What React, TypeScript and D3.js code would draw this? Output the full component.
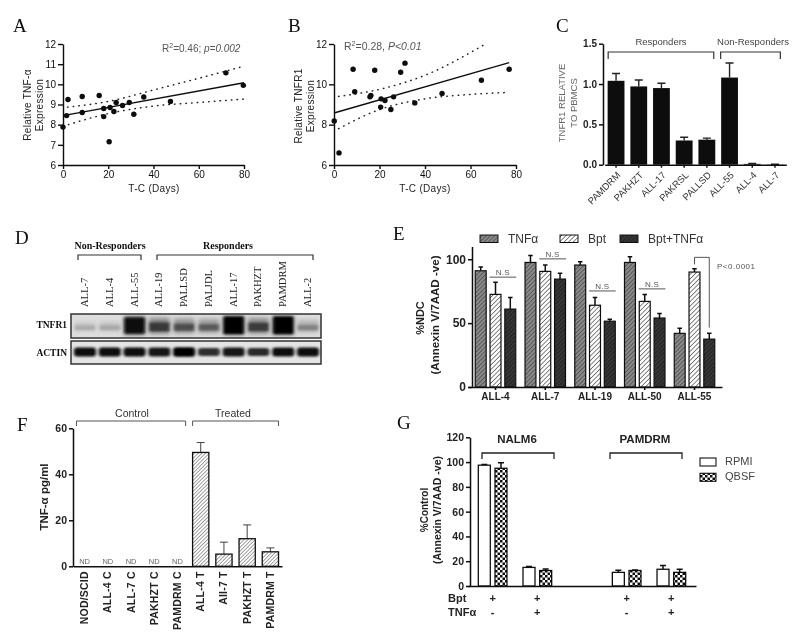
import React, { useEffect, useRef } from 'react';
import * as d3 from 'd3';

const SANS = '"Liberation Sans", Arial, sans-serif';
const SERIF = '"Liberation Serif", "Times New Roman", serif';

// Panel A
const aPoints: [number, number][] = [[0, 7.88], [1.6, 8.45], [2.2, 9.25], [8.5, 9.4], [8.5, 8.6], [16, 9.45], [18, 8.8], [18, 8.4], [20.4, 7.15], [20.8, 8.85], [22.5, 8.65], [23.5, 9.1], [26.3, 8.95], [29.3, 9.1], [31.3, 8.52], [35.7, 9.37], [47.5, 9.15], [72, 10.57], [79.7, 9.95]];
const aFit: [number, number][] = [[0, 8.45], [80, 10.08]];
const aUpper: [number, number][] = [[2, 8.87], [20, 9.15], [40, 9.72], [60, 10.3], [80, 10.9]];
const aLower: [number, number][] = [[0, 7.92], [20, 8.55], [40, 8.92], [60, 9.1], [80, 9.27]];

// Panel B
const bPoints: [number, number][] = [[0.1, 8.18], [2.2, 6.6], [8.4, 10.75], [9.1, 9.63], [15.8, 9.38], [16.2, 9.45], [17.9, 10.7], [20.7, 9.28], [20.5, 8.87], [22.4, 9.2], [25, 8.75], [26.2, 9.38], [29.3, 10.6], [31.2, 11.05], [35.5, 9.08], [47.5, 9.55], [64.8, 10.2], [77, 10.75]];
const bFit: [number, number][] = [[0, 8.58], [77, 11.08]];
const bUpper: [number, number][] = [[2, 9.4], [20, 9.75], [40, 10.45], [65.5, 11.93]];
const bLower: [number, number][] = [[2, 7.8], [20, 8.75], [40, 9.28], [60, 9.5], [77, 9.6]];

// Panel C
const cCats = ['PAMDRM', 'PAKHZT', 'ALL-17', 'PAKRSL', 'PALLSD', 'ALL-55', 'ALL-4', 'ALL-7'];
const cValues = [1.04, 0.97, 0.95, 0.3, 0.31, 1.08, 0.01, 0.003];
const cErrTop = [1.13, 1.05, 1.01, 0.34, 0.33, 1.26, 0.015, 0.005];

// Panel D
const dLanes = ['ALL-7', 'ALL-4', 'ALL-55', 'ALL-19', 'PALLSD', 'PALJDL', 'ALL-17', 'PAKHZT', 'PAMDRM', 'ALL-2'];
const dTnfr1 = [0.22, 0.24, 0.97, 0.76, 0.66, 0.6, 1, 0.74, 1, 0.42];
const dActin = [0.97, 0.97, 0.97, 0.92, 1, 0.8, 0.93, 0.82, 0.95, 0.97];

// Panel E
const eGroups = ['ALL-4', 'ALL-7', 'ALL-19', 'ALL-50', 'ALL-55'];
const eSeries = ['TNFα', 'Bpt', 'Bpt+TNFα'];
const eTnf = [91, 97.5, 95.5, 97.5, 42];
const eBpt = [72.5, 90.5, 64, 67, 90];
const eBoth = [61, 84.5, 51.5, 54, 37.5];
const eTnfErr = [94, 103, 98, 102, 46];
const eBptErr = [82, 95.5, 70, 72.5, 92.5];
const eBothErr = [70, 89, 53, 57.5, 42];
const eNs = [86, 100.3, 75.2, 76.8];

// Panel F
const fCats = ['NOD/SCID', 'ALL-4 C', 'ALL-7 C', 'PAKHZT C', 'PAMDRM C', 'ALL-4 T', 'AII-7 T', 'PAKHZT T', 'PAMDRM T'];
const fValues = [0, 0, 0, 0, 0, 49.5, 5.3, 12, 6.3];
const fErrTop = [0, 0, 0, 0, 0, 53.8, 10.5, 18, 8];

// Panel G
const gSlots = ['NALM6 a', 'NALM6 b', '', 'PAMDRM a', 'PAMDRM b'];
const gSeries = ['RPMI', 'QBSF'];
const gRpmi = [97.5, 15, 0, 11, 13.5];
const gQbsf = [95, 12.5, 0, 12.5, 11];
const gRpmiErr = [98, 15.7, 0, 12.7, 16.5];
const gQbsfErr = [99.5, 13.7, 0, 13, 13.5];
const gBpt = ['+', '+', '', '+', '+'];
const gTnf = ['-', '+', '', '-', '+'];

type Sel = d3.Selection<any, any, any, any>;

function styleAxis(a: Sel, size: number, weight: string | number, color = '#111', sw = 1.4) {
    a.selectAll('path,line').attr('stroke', '#111').attr('stroke-width', sw);
    a.selectAll('text').style('font-family', SANS).style('font-size', `${size}px`).style('font-weight', weight).attr('fill', color);
}

function label(g: Sel, x: number, y: number, t: string, size: number, opts: any = {}) {
    const el = g.append('text').attr('x', x).attr('y', y)
        .attr('text-anchor', opts.anchor || 'start')
        .style('font-family', opts.family || SANS)
        .style('font-size', `${size}px`)
        .style('font-weight', opts.weight || 'normal')
        .attr('fill', opts.fill || '#222')
        .text(t);
    if (opts.spacing) el.style('letter-spacing', `${opts.spacing}px`);
    return el;
}

function bracket(g: Sel, x1: number, x2: number, y: number, drop: number, color = '#333', sw = 1.2) {
    g.append('path').attr('d', `M${x1},${y + drop}V${y}H${x2}V${y + drop}`)
        .attr('fill', 'none').attr('stroke', color).attr('stroke-width', sw);
}

function hatch(defs: Sel, id: string, bg: string, fg: string, gap: number, sw: number) {
    const p = defs.append('pattern').attr('id', id).attr('patternUnits', 'userSpaceOnUse')
        .attr('width', gap).attr('height', gap).attr('patternTransform', 'rotate(45)');
    p.append('rect').attr('width', gap).attr('height', gap).attr('fill', bg);
    p.append('line').attr('x1', 0).attr('x2', 0).attr('y1', 0).attr('y2', gap).attr('stroke', fg).attr('stroke-width', sw);
}

function scatter(root: Sel, o: any) {
    const x = d3.scaleLinear().domain([0, 80]).range(o.xr);
    const y = d3.scaleLinear().domain([6, 12]).range([165, 44]);
    const ax = root.append('g').attr('transform', 'translate(0,165)').call(d3.axisBottom(x).tickValues([0, 20, 40, 60, 80]).tickSize(4).tickSizeOuter(0).tickPadding(2) as any);
    styleAxis(ax, 10, 'normal', '#111');
    const ay = root.append('g').attr('transform', `translate(${o.xr[0]},0)`).call(d3.axisLeft(y).tickValues(o.yTicks).tickSize(5).tickSizeOuter(0).tickFormat(d3.format('d') as any).tickPadding(2) as any);
    styleAxis(ay, 10, 'normal', '#111');

    const line = d3.line<[number, number]>().x(d => x(d[0])).y(d => y(d[1]));
    root.append('path').attr('d', line(o.fit)).attr('fill', 'none').attr('stroke', '#111').attr('stroke-width', 1.4);
    const curve = d3.line<[number, number]>().x(d => x(d[0])).y(d => y(d[1])).curve(d3.curveMonotoneX);
    [o.upper, o.lower].forEach(b => {
        root.append('path').attr('d', curve(b)).attr('fill', 'none').attr('stroke', '#222')
            .attr('stroke-width', 1.5).attr('stroke-linecap', 'round').attr('stroke-dasharray', '0.5 5.2');
    });
    root.selectAll(null).data(o.points).enter().append('circle')
        .attr('cx', (d: any) => x(d[0])).attr('cy', (d: any) => y(d[1])).attr('r', 2.7).attr('fill', '#0a0a0a');
}

function errorBars(g: Sel, data: any[], cx: (d: any) => number, top: (d: any) => number, base: (d: any) => number, cap: number, color: string, sw: number) {
    g.selectAll(null).data(data).enter().append('path')
        .attr('d', (d: any) => `M${cx(d)},${base(d)}V${top(d)}M${cx(d) - cap / 2},${top(d)}H${cx(d) + cap / 2}`)
        .attr('fill', 'none').attr('stroke', color).attr('stroke-width', sw);
}

export default function App() {
    const svgRef = useRef<SVGSVGElement>(null);

    useEffect(() => {
        if (!svgRef.current) return;
        const svg = d3.select(svgRef.current);
        svg.selectAll('*').remove();
        const defs = svg.append('defs');
        const root = svg.append('g').attr('filter', 'url(#soft)');

        defs.append('filter').attr('id', 'soft').attr('filterUnits', 'userSpaceOnUse').attr('x', 0).attr('y', 0).attr('width', 800).attr('height', 642)
            .append('feGaussianBlur').attr('stdDeviation', 0.45);
        const wide = defs.append('filter').attr('id', 'blotWide').attr('x', '-50%').attr('y', '-80%').attr('width', '200%').attr('height', '260%');
        wide.append('feGaussianBlur').attr('stdDeviation', '2.2 2.5');
        const core = defs.append('filter').attr('id', 'blotCore').attr('x', '-50%').attr('y', '-100%').attr('width', '200%').attr('height', '300%');
        core.append('feGaussianBlur').attr('stdDeviation', '1.5 1.2');
        defs.append('clipPath').attr('id', 'tnfClip').append('rect').attr('x', 71).attr('y', 314).attr('width', 250).attr('height', 24);
        defs.append('clipPath').attr('id', 'actClip').append('rect').attr('x', 71).attr('y', 341).attr('width', 250).attr('height', 23);

        hatch(defs, 'hTnf', '#8a8a8a', '#3c3c3c', 3, 1.3);
        hatch(defs, 'hBpt', '#ffffff', '#333333', 3.2, 1.2);
        hatch(defs, 'hBoth', '#2a2a2a', '#4a4a4a', 3, 1.1);
        hatch(defs, 'hF', '#ffffff', '#555555', 2.6, 1.1);
        const check = defs.append('pattern').attr('id', 'check').attr('patternUnits', 'userSpaceOnUse').attr('width', 5).attr('height', 5);
        check.append('rect').attr('width', 5).attr('height', 5).attr('fill', '#ffffff');
        check.append('rect').attr('width', 2.5).attr('height', 2.5).attr('fill', '#111');
        check.append('rect').attr('x', 2.5).attr('y', 2.5).attr('width', 2.5).attr('height', 2.5).attr('fill', '#111');

        // panel letters
        const letters: [string, number, number][] = [['A', 13, 32], ['B', 288, 32], ['C', 556, 32], ['D', 15, 244], ['E', 393, 240], ['F', 17, 431], ['G', 397, 429]];
        letters.forEach(([t, x, y]) => label(root, x, y, t, 19, { family: SERIF, fill: '#111' }));

        // A
        scatter(root, { xr: [63, 244], yTicks: [6, 7, 8, 9, 10, 11, 12], points: aPoints, fit: aFit, upper: aUpper, lower: aLower });
        label(root, 0, 0, 'Relative TNF-α', 10, { anchor: 'middle', spacing: 0.3 }).attr('transform', 'translate(31,105) rotate(-90)');
        label(root, 0, 0, 'Expression', 10, { anchor: 'middle', spacing: 0.3 }).attr('transform', 'translate(43,105) rotate(-90)');
        label(root, 154, 192, 'T-C (Days)', 10, { anchor: 'middle', spacing: 0.3 });
        const aNote = label(root, 162, 52, 'R', 10, { fill: '#555' });
        aNote.append('tspan').attr('dy', -4).style('font-size', '7px').text('2');
        aNote.append('tspan').attr('dy', 4).text('=0.46; ');
        aNote.append('tspan').style('font-style', 'italic').text('p=0.002');

        // B
        scatter(root, { xr: [334, 516], yTicks: [6, 8, 10, 12], points: bPoints, fit: bFit, upper: bUpper, lower: bLower });
        label(root, 0, 0, 'Relative TNFR1', 10, { anchor: 'middle', spacing: 0.3 }).attr('transform', 'translate(302,106) rotate(-90)');
        label(root, 0, 0, 'Expression', 10, { anchor: 'middle', spacing: 0.3 }).attr('transform', 'translate(314,106) rotate(-90)');
        label(root, 425, 192, 'T-C (Days)', 10, { anchor: 'middle', spacing: 0.3 });
        const bNote = label(root, 344, 50, 'R', 10.5, { fill: '#555' });
        bNote.append('tspan').attr('dy', -4).style('font-size', '7px').text('2');
        bNote.append('tspan').attr('dy', 4).text('=0.28, ');
        bNote.append('tspan').style('font-style', 'italic').text('P<0.01');

        // C
        const cx = d3.scaleBand().domain(cCats).range([604.7, 786.3]).paddingInner(0.26).paddingOuter(0.13);
        const cy = d3.scaleLinear().domain([0, 1.5]).range([164.7, 43.7]);
        const cData = cCats.map((c, i) => ({ c, v: cValues[i], e: cErrTop[i] }));
        const cCenter = (c: string) => cx(c)! + cx.bandwidth() / 2;
        errorBars(root, cData, d => cCenter(d.c), d => cy(d.e), d => cy(d.v), 8, '#222', 1.4);
        root.selectAll(null).data(cData).enter().append('rect')
            .attr('x', (d: any) => cx(d.c)!).attr('y', (d: any) => cy(d.v))
            .attr('width', cx.bandwidth()).attr('height', (d: any) => cy(0) - cy(d.v)).attr('fill', '#0c0c0c');
        const cAx = root.append('g').attr('transform', 'translate(0,164.7)').call(d3.axisBottom(cx).tickSize(3).tickSizeOuter(0) as any);
        styleAxis(cAx, 9.5, 'normal', '#333', 1.5);
        cAx.selectAll('text').attr('text-anchor', 'end').attr('dy', '0.3em').attr('y', 0)
            .attr('transform', 'translate(3,9) rotate(-45)');
        const cAy = root.append('g').attr('transform', 'translate(603,0)').call(d3.axisLeft(cy).tickValues([0, 0.5, 1, 1.5]).tickFormat(d3.format('.1f') as any).tickSize(4).tickSizeOuter(0).tickPadding(2) as any);
        styleAxis(cAy, 10, 'bold', '#222', 1.5);
        label(root, 0, 0, 'TNFR1 RELATIVE', 9.5, { anchor: 'middle', fill: '#666' }).attr('transform', 'translate(565,103) rotate(-90)');
        label(root, 0, 0, 'TO PBMCS', 9.5, { anchor: 'middle', fill: '#666' }).attr('transform', 'translate(577,103) rotate(-90)');
        bracket(root, cx('PAMDRM')! + 0.5, cx('PALLSD')! + cx.bandwidth() - 1.5, 52, 7);
        bracket(root, cx('ALL-55')! - 0.5, cx('ALL-7')! + cx.bandwidth() - 3, 52, 7);
        label(root, 661, 45, 'Responders', 9.5, { anchor: 'middle', fill: '#444' });
        label(root, 753, 45, 'Non-Responders', 9.5, { anchor: 'middle', fill: '#444' });

        // D blot
        const lane = d3.scalePoint<string>().domain(dLanes).range([85, 308]);
        const gray = d3.scaleLinear<string>().domain([0, 1]).range(['#dcdcdc', '#030303']);
        const tnfG = root.append('g');
        tnfG.append('rect').attr('x', 71).attr('y', 314).attr('width', 250).attr('height', 24).attr('fill', '#dedede');
        const tnfBands = tnfG.append('g').attr('clip-path', 'url(#tnfClip)');
        // smear above the main band, then the band itself
        tnfBands.selectAll(null).data(dLanes).enter().append('rect')
            .attr('x', d => lane(d)! - 10.5).attr('y', (d, i) => 326 - 8 * dTnfr1[i] - 2)
            .attr('width', 21).attr('height', (d, i) => 6 + 13 * dTnfr1[i])
            .attr('fill', (d, i) => gray(dTnfr1[i] * 0.55)).attr('filter', 'url(#blotWide)');
        tnfBands.selectAll(null).data(dLanes).enter().append('rect')
            .attr('x', d => lane(d)! - 10).attr('y', (d, i) => 326.5 - 9 * dTnfr1[i] ** 4 - 1)
            .attr('width', 20).attr('height', (d, i) => 4.5 + 13 * dTnfr1[i] ** 4)
            .attr('fill', (d, i) => gray(dTnfr1[i])).attr('filter', 'url(#blotCore)');
        tnfG.append('rect').attr('x', 71).attr('y', 314).attr('width', 250).attr('height', 24).attr('fill', 'none').attr('stroke', '#333').attr('stroke-width', 1.5);

        const actG = root.append('g');
        actG.append('rect').attr('x', 71).attr('y', 341).attr('width', 250).attr('height', 23).attr('fill', '#e4e4e4');
        const actBands = actG.append('g').attr('clip-path', 'url(#actClip)');
        actBands.selectAll(null).data(dLanes).enter().append('rect')
            .attr('x', d => lane(d)! - 11).attr('y', (d, i) => 352 - 1.5 - 3.2 * dActin[i])
            .attr('width', 22).attr('height', (d, i) => 3 + 6.4 * dActin[i]).attr('rx', 3)
            .attr('fill', (d, i) => gray(dActin[i])).attr('filter', 'url(#blotCore)');
        actG.append('rect').attr('x', 71).attr('y', 341).attr('width', 250).attr('height', 23).attr('fill', 'none').attr('stroke', '#333').attr('stroke-width', 1.5);

        root.selectAll(null).data(dLanes).enter().append('text')
            .attr('transform', d => `translate(${lane(d)! + 3},307) rotate(-90)`)
            .style('font-family', SERIF).style('font-size', '10.5px').attr('fill', '#222').text(d => d);
        label(root, 67, 328, 'TNFR1', 9.5, { anchor: 'end', family: SERIF, weight: 'bold', fill: '#111' });
        label(root, 67, 356, 'ACTIN', 9.5, { anchor: 'end', family: SERIF, weight: 'bold', fill: '#111' });
        label(root, 110, 249, 'Non-Responders', 10, { anchor: 'middle', family: SERIF, weight: 'bold', fill: '#111' });
        label(root, 228, 249, 'Responders', 10, { anchor: 'middle', family: SERIF, weight: 'bold', fill: '#111' });
        bracket(root, 78, 141, 255, 5, '#333', 1.2);
        bracket(root, 157, 313, 255, 5, '#333', 1.2);

        // E
        const ex = d3.scaleBand().domain(eGroups).range([468, 722]).paddingInner(0).paddingOuter(0.053);
        const es = d3.scaleBand().domain(eSeries).range([-20.25, 20.25]).padding(0).paddingInner(0.26);
        const ey = d3.scaleLinear().domain([0, 110]).range([387, 246.5]);
        const eFills = ['url(#hTnf)', 'url(#hBpt)', 'url(#hBoth)'];
        const eVals = [eTnf, eBpt, eBoth];
        const eErrs = [eTnfErr, eBptErr, eBothErr];
        const eData = eGroups.flatMap((g, i) => eSeries.map((s, j) => ({ g, s, j, v: eVals[j][i], e: eErrs[j][i] })));
        const eLeft = (d: any) => ex(d.g)! + ex.bandwidth() / 2 + es(d.s)!;
        errorBars(root, eData, d => eLeft(d) + es.bandwidth() / 2, d => ey(d.e), d => ey(d.v), 4.5, '#111', 1.5);
        root.selectAll(null).data(eData).enter().append('rect')
            .attr('x', (d: any) => eLeft(d)).attr('y', (d: any) => ey(d.v))
            .attr('width', es.bandwidth()).attr('height', (d: any) => ey(0) - ey(d.v))
            .attr('fill', (d: any) => eFills[d.j]).attr('stroke', '#111').attr('stroke-width', 1.2);
        const eAx = root.append('g').attr('transform', 'translate(0,387)').call(d3.axisBottom(ex).tickSize(3).tickSizeOuter(0).tickPadding(3) as any);
        styleAxis(eAx, 10, 'bold', '#222', 1.6);
        const eAy = root.append('g').attr('transform', 'translate(472,0)').call(d3.axisLeft(ey).tickValues([0, 50, 100]).tickSize(4).tickSizeOuter(0).tickPadding(2) as any);
        styleAxis(eAy, 12, 'bold', '#222', 1.5);
        label(root, 0, 0, '%NDC', 11, { anchor: 'middle', weight: 'bold' }).attr('transform', 'translate(424,318) rotate(-90)');
        label(root, 0, 0, '(Annexin V/7AAD -ve)', 11.6, { anchor: 'middle', weight: 'bold' }).attr('transform', 'translate(439,315) rotate(-90)');
        eNs.forEach((v, i) => {
            const g = eGroups[i];
            const x0 = ex(g)! + ex.bandwidth() / 2 + es('Bpt')! - 0.5;
            const x1 = ex(g)! + ex.bandwidth() / 2 + es('Bpt+TNFα')! + es.bandwidth() + 0.5;
            root.append('line').attr('x1', x0).attr('x2', x1).attr('y1', ey(v)).attr('y2', ey(v)).attr('stroke', '#555').attr('stroke-width', 1);
            label(root, (x0 + x1) / 2, ey(v) - 2, 'N.S', 8, { anchor: 'middle', fill: '#555', spacing: 0.3 });
        });
        const pLeft = ex('ALL-55')! + ex.bandwidth() / 2 + es('Bpt')! + es.bandwidth() / 2;
        const pRight = ex('ALL-55')! + ex.bandwidth() / 2 + es('Bpt+TNFα')! + es.bandwidth() / 2;
        root.append('path').attr('d', `M${pLeft},${ey(96)}V${ey(101.5)}H${pRight}V${ey(46.5)}`).attr('fill', 'none').attr('stroke', '#444').attr('stroke-width', 0.9);
        label(root, 717, 269, 'P<0.0001', 8, { fill: '#555', spacing: 0.5 });
        const eLegX = [480, 560, 620];
        eSeries.forEach((s, i) => {
            root.append('rect').attr('x', eLegX[i]).attr('y', 235).attr('width', 18).attr('height', 7.5)
                .attr('fill', eFills[i]).attr('stroke', '#111').attr('stroke-width', 1);
            label(root, eLegX[i] + 28, 243, s, 12, { fill: '#333' });
        });

        // F
        const fx = d3.scaleBand().domain(fCats).range([73, 282]).paddingInner(0.3).paddingOuter(0.15);
        const fy = d3.scaleLinear().domain([0, 60]).range([566.3, 428.3]);
        const fData = fCats.map((c, i) => ({ c, v: fValues[i], e: fErrTop[i] }));
        const fBars = fData.filter(d => d.v > 0);
        const fCenter = (c: string) => fx(c)! + fx.bandwidth() / 2;
        errorBars(root, fBars, d => fCenter(d.c), d => fy(d.e), d => fy(d.v), 8, '#444', 1);
        root.selectAll(null).data(fBars).enter().append('rect')
            .attr('x', (d: any) => fx(d.c)!).attr('y', (d: any) => fy(d.v))
            .attr('width', fx.bandwidth()).attr('height', (d: any) => fy(0) - fy(d.v))
            .attr('fill', 'url(#hF)').attr('stroke', '#111').attr('stroke-width', 1.3);
        root.selectAll(null).data(fData.filter(d => d.v === 0)).enter().append('text')
            .attr('x', (d: any) => fCenter(d.c)).attr('y', 564).attr('text-anchor', 'middle')
            .style('font-family', SANS).style('font-size', '7.5px').attr('fill', '#666').text('ND');
        const fAx = root.append('g').attr('transform', 'translate(0,566.3)').call(d3.axisBottom(fx).tickSize(0).tickSizeOuter(0) as any);
        styleAxis(fAx, 10.5, 'bold', '#222', 1.5);
        fAx.selectAll('text').attr('text-anchor', 'end').attr('dy', 0).attr('y', 0).attr('x', 0)
            .attr('transform', 'translate(3.5,5) rotate(-90)').style('letter-spacing', '0.2px');
        const fAy = root.append('g').attr('transform', 'translate(73,0)').call(d3.axisLeft(fy).tickValues([0, 20, 40, 60]).tickSize(4).tickSizeOuter(0).tickPadding(2) as any);
        styleAxis(fAy, 10.5, 'bold', '#222', 1.5);
        label(root, 0, 0, 'TNF-α pg/ml', 11.5, { anchor: 'middle', weight: 'bold' }).attr('transform', 'translate(48,497) rotate(-90)');
        bracket(root, fx('NOD/SCID')!, fx('PAMDRM C')! + fx.bandwidth(), 421, 5, '#555', 1);
        bracket(root, fx('ALL-4 T')!, fx('PAMDRM T')! + fx.bandwidth(), 421, 5, '#555', 1);
        label(root, 132, 417, 'Control', 10.5, { anchor: 'middle', fill: '#333' });
        label(root, 233, 417, 'Treated', 10.5, { anchor: 'middle', fill: '#333' });

        // G
        const gx = d3.scaleBand().domain(gSlots).range([468, 696]).paddingInner(0).paddingOuter(0.052);
        const gs = d3.scaleBand().domain(gSeries).range([-14.33, 14.33]).paddingInner(0.28).paddingOuter(0);
        const gy = d3.scaleLinear().domain([0, 120]).range([586, 437.3]);
        const gVals = [gRpmi, gQbsf];
        const gErrs = [gRpmiErr, gQbsfErr];
        const gFills = ['#ffffff', 'url(#check)'];
        const gData = gSlots.flatMap((g, i) => gSeries.map((s, j) => ({ g, s, j, v: gVals[j][i], e: gErrs[j][i] }))).filter(d => d.g !== '');
        const gLeft = (d: any) => gx(d.g)! + gx.bandwidth() / 2 + gs(d.s)!;
        errorBars(root, gData, d => gLeft(d) + gs.bandwidth() / 2, d => gy(d.e), d => gy(d.v), 6, '#111', 1.5);
        root.selectAll(null).data(gData).enter().append('rect')
            .attr('x', (d: any) => gLeft(d)).attr('y', (d: any) => gy(d.v))
            .attr('width', gs.bandwidth()).attr('height', (d: any) => gy(0) - gy(d.v))
            .attr('fill', (d: any) => gFills[d.j]).attr('stroke', '#111').attr('stroke-width', 1.3);
        const gAx = root.append('g').attr('transform', 'translate(0,586)').call(d3.axisBottom(gx).tickSize(0).tickSizeOuter(0).tickFormat(() => '') as any);
        styleAxis(gAx, 10, 'bold', '#222', 1.5);
        const gAy = root.append('g').attr('transform', 'translate(470,0)').call(d3.axisLeft(gy).tickValues([0, 20, 40, 60, 80, 100, 120]).tickSize(4).tickSizeOuter(0).tickPadding(2) as any);
        styleAxis(gAy, 10.5, 'bold', '#222', 1.5);
        label(root, 0, 0, '%Control', 10, { anchor: 'middle', weight: 'bold' }).attr('transform', 'translate(428,510) rotate(-90)');
        label(root, 0, 0, '(Annexin V/7AAD -ve)', 10.5, { anchor: 'middle', weight: 'bold' }).attr('transform', 'translate(441,510) rotate(-90)');
        label(root, 517, 443, 'NALM6', 11.5, { anchor: 'middle', weight: 'bold' });
        label(root, 645, 443, 'PAMDRM', 11.5, { anchor: 'middle', weight: 'bold' });
        bracket(root, 482, 554, 453, 6, '#222', 1.3);
        bracket(root, 610, 682, 453, 6, '#222', 1.3);
        gSeries.forEach((s, i) => {
            root.append('rect').attr('x', 700).attr('y', 458 + i * 15.3).attr('width', 16).attr('height', 8)
                .attr('fill', gFills[i]).attr('stroke', '#111').attr('stroke-width', 1.1);
            label(root, 725, 465 + i * 15.3, s, 11, { fill: '#444' });
        });
        label(root, 448, 602, 'Bpt', 11, { weight: 'bold' });
        label(root, 448, 616, 'TNFα', 11, { weight: 'bold' });
        gSlots.forEach((g, i) => {
            const c = gx(g)! + gx.bandwidth() / 2;
            label(root, c, 602, gBpt[i], 11, { anchor: 'middle', weight: 'bold' });
            label(root, c, 616, gTnf[i], 11, { anchor: 'middle', weight: 'bold' });
        });
    }, []);

    return (
        <svg ref={svgRef} width={800} height={642}
            style={{ position: 'absolute', left: 0, top: 0, background: '#fff', display: 'block' }} />
    );
}
